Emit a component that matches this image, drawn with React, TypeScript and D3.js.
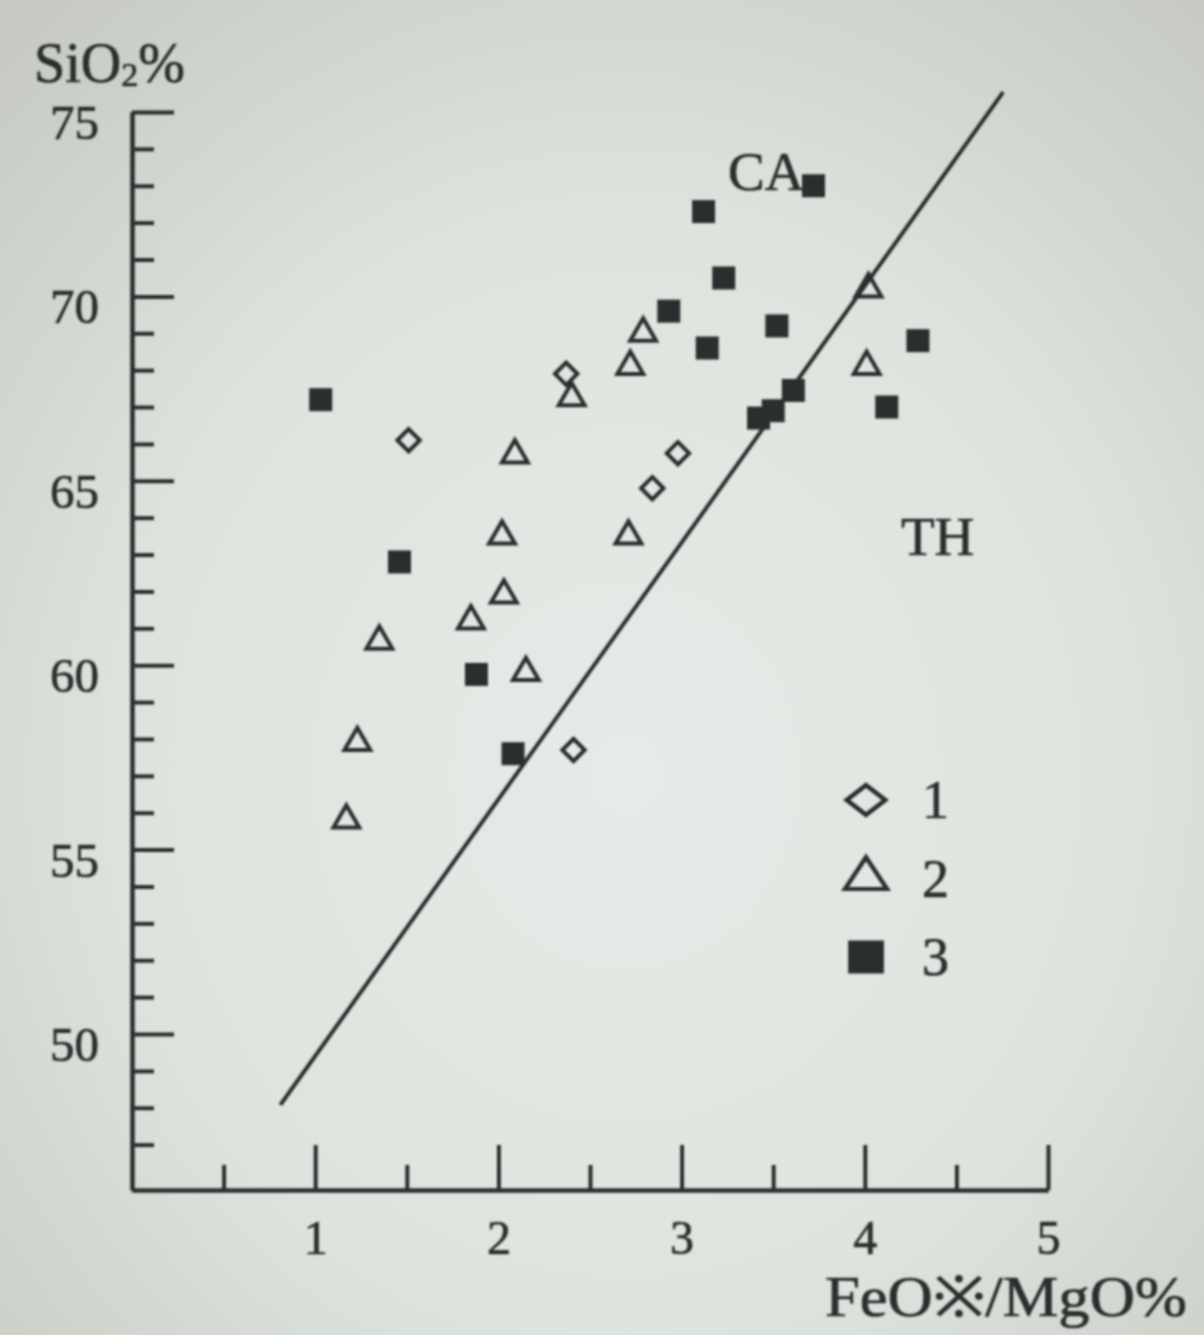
import React, { useEffect, useRef } from "react";
import * as d3 from "d3";

// values (FeO*/MgO vs SiO2)
const group1 = [
  [1.51, 66.1],
  [2.37, 67.9],
  [2.84, 64.8],
  [2.98, 65.75],
  [2.41, 57.7],
];

const group2 = [
  [2.79, 69.0],
  [2.72, 68.1],
  [2.4, 67.25],
  [2.09, 65.7],
  [2.02, 63.5],
  [2.71, 63.5],
  [2.03, 61.9],
  [1.85, 61.2],
  [1.35, 60.65],
  [2.15, 59.8],
  [1.23, 57.9],
  [1.17, 55.8],
  [4.02, 70.2],
  [4.01, 68.1],
];

const group3 = [
  [1.03, 67.2],
  [1.46, 62.8],
  [1.88, 59.75],
  [2.08, 57.6],
  [3.12, 72.3],
  [3.23, 70.5],
  [2.93, 69.6],
  [3.14, 68.6],
  [3.52, 69.2],
  [3.72, 73.0],
  [3.61, 67.45],
  [3.42, 66.7],
  [3.5, 66.9],
  [4.29, 68.8],
  [4.12, 67.0],
];

// CA / TH dividing line
const divider = [
  [0.81, 48.08],
  [4.755, 75.54],
];

const xMajor = [1, 2, 3, 4, 5];
const xMinor = [0.5, 1.5, 2.5, 3.5, 4.5];
const yMajor = [50, 55, 60, 65, 70, 75];
const yMinor = d3.range(47, 76).filter(v => v % 5 !== 0);

const legendItems = ["1", "2", "3"];

const WIDTH = 1204;
const HEIGHT = 1335;
const INK = "#2b2f2d";
const FONT = "'Liberation Serif', 'DejaVu Serif', serif";

const App = () => {
  const svgRef = useRef(null);

  useEffect(() => {
    document.body.style.margin = "0";
    const svg = d3.select(svgRef.current);
    svg.selectAll("*").remove();

    const x = d3.scaleLinear().domain([0, 5]).range([132, 1048]);
    const y = d3.scaleLinear().domain([45.77, 75]).range([1190, 112]);

    // paper background, darker towards the corners like the photo
    const defs = svg.append("defs");
    const grad = defs.append("radialGradient")
      .attr("id", "paper")
      .attr("cx", "52%").attr("cy", "58%").attr("r", "75%");
    grad.append("stop").attr("offset", "0%").attr("stop-color", "#e5ece7");
    grad.append("stop").attr("offset", "55%").attr("stop-color", "#dde4de");
    grad.append("stop").attr("offset", "100%").attr("stop-color", "#c6cac2");
    defs.append("filter").attr("id", "soft")
      .append("feGaussianBlur").attr("stdDeviation", 1);

    svg.append("rect")
      .attr("width", WIDTH).attr("height", HEIGHT)
      .attr("fill", "url(#paper)");

    const g = svg.append("g").attr("filter", "url(#soft)");

    // y axis: minor ticks, then major ticks with labels
    const yMinorAxis = g.append("g")
      .attr("transform", `translate(${x(0)},0)`)
      .call(d3.axisLeft(y).tickValues(yMinor).tickSize(-22).tickSizeOuter(0).tickFormat(() => ""));
    const yMajorAxis = g.append("g")
      .attr("transform", `translate(${x(0)},0)`)
      .call(d3.axisLeft(y).tickValues(yMajor).tickSize(-42).tickSizeOuter(0).tickPadding(33));

    // x axis
    const xMinorAxis = g.append("g")
      .attr("transform", `translate(0,${y.range()[0]})`)
      .call(d3.axisBottom(x).tickValues(xMinor).tickSize(-25).tickSizeOuter(0).tickFormat(() => ""));
    const xMajorAxis = g.append("g")
      .attr("transform", `translate(0,${y.range()[0]})`)
      .call(d3.axisBottom(x).tickValues(xMajor).tickSize(-45).tickSizeOuter(0).tickPadding(30)
        .tickFormat(d3.format("d")));

    [yMinorAxis, yMajorAxis, xMinorAxis, xMajorAxis].forEach(ax => {
      ax.selectAll("path, line").attr("stroke", INK).attr("stroke-width", 4);
      ax.selectAll("text")
        .attr("fill", INK)
        .attr("stroke", INK)
        .attr("stroke-width", 0.7)
        .style("font-family", FONT)
        .style("font-size", "49px");
    });
    yMajorAxis.selectAll("text").attr("dy", "0.54em");
    xMajorAxis.selectAll("text").style("font-size", "48px");

    // dividing line
    g.append("path")
      .attr("d", d3.line().x(d => x(d[0])).y(d => y(d[1]))(divider))
      .attr("fill", "none")
      .attr("stroke", INK)
      .attr("stroke-width", 4);

    const diamond = d3.symbol(d3.symbolSquare, 250)();
    const triangle = d3.symbol(d3.symbolTriangle, 290)();
    const square = d3.symbol(d3.symbolSquare, 530)();

    g.selectAll(".g1").data(group1).enter().append("path")
      .attr("d", diamond)
      .attr("transform", d => `translate(${x(d[0])},${y(d[1])}) rotate(45)`)
      .attr("fill", "none").attr("stroke", INK).attr("stroke-width", 4);

    g.selectAll(".g2").data(group2).enter().append("path")
      .attr("d", triangle)
      .attr("transform", d => `translate(${x(d[0])},${y(d[1])})`)
      .attr("fill", "none").attr("stroke", INK).attr("stroke-width", 4);

    g.selectAll(".g3").data(group3).enter().append("path")
      .attr("d", square)
      .attr("transform", d => `translate(${x(d[0])},${y(d[1])})`)
      .attr("fill", INK);

    const addText = (txt, px, py, size, anchor = "start") =>
      g.append("text")
        .attr("x", px).attr("y", py)
        .attr("text-anchor", anchor)
        .attr("fill", INK)
        .attr("stroke", INK)
        .attr("stroke-width", 0.7)
        .style("font-family", FONT)
        .style("font-size", `${size}px`)
        .text(txt);

    // field labels
    addText("CA", 728, 190, 55);
    addText("TH", 901, 555, 55);

    // axis titles
    const yTitle = g.append("text")
      .attr("x", 34).attr("y", 82)
      .attr("fill", INK)
      .attr("stroke", INK)
      .attr("stroke-width", 0.7)
      .style("font-family", FONT)
      .style("font-size", "56px");
    yTitle.append("tspan").text("SiO");
    yTitle.append("tspan").attr("dy", 4).style("font-size", "34px").text("2");
    yTitle.append("tspan").attr("dy", -4).text("%");

    addText("FeO※/MgO%", 1187, 1316, 56, "end")
      .attr("textLength", 362)
      .attr("lengthAdjust", "spacingAndGlyphs");

    // legend
    const legendShapes = [
      { d: d3.symbol(d3.symbolSquare, 440)(), tf: "rotate(45) ", fill: "none", sx: 1.3 },
      { d: d3.symbol(d3.symbolTriangle, 580)(), tf: "", fill: "none", sx: 1.15 },
      { d: d3.symbol(d3.symbolSquare, 1100)(), tf: "", fill: INK, sx: 1.08 },
    ];
    const legendY = d3.scalePoint().domain(legendItems).range([800, 957]);
    legendItems.forEach((item, i) => {
      const s = legendShapes[i];
      const row = g.append("g").attr("transform", `translate(866,${legendY(item)})`);
      row.append("path")
        .attr("d", s.d)
        .attr("transform", `scale(${s.sx},1) ${s.tf}`)
        .attr("fill", s.fill)
        .attr("stroke", s.fill === "none" ? INK : "none")
        .attr("stroke-width", 4);
      row.append("text")
        .attr("x", 56).attr("y", 18)
        .attr("fill", INK)
        .attr("stroke", INK)
        .attr("stroke-width", 0.7)
        .style("font-family", FONT)
        .style("font-size", "54px")
        .text(item);
    });
  }, []);

  return (
    <svg
      ref={svgRef}
      width={WIDTH}
      height={HEIGHT}
      style={{ display: "block" }}
    />
  );
};

export default App;
